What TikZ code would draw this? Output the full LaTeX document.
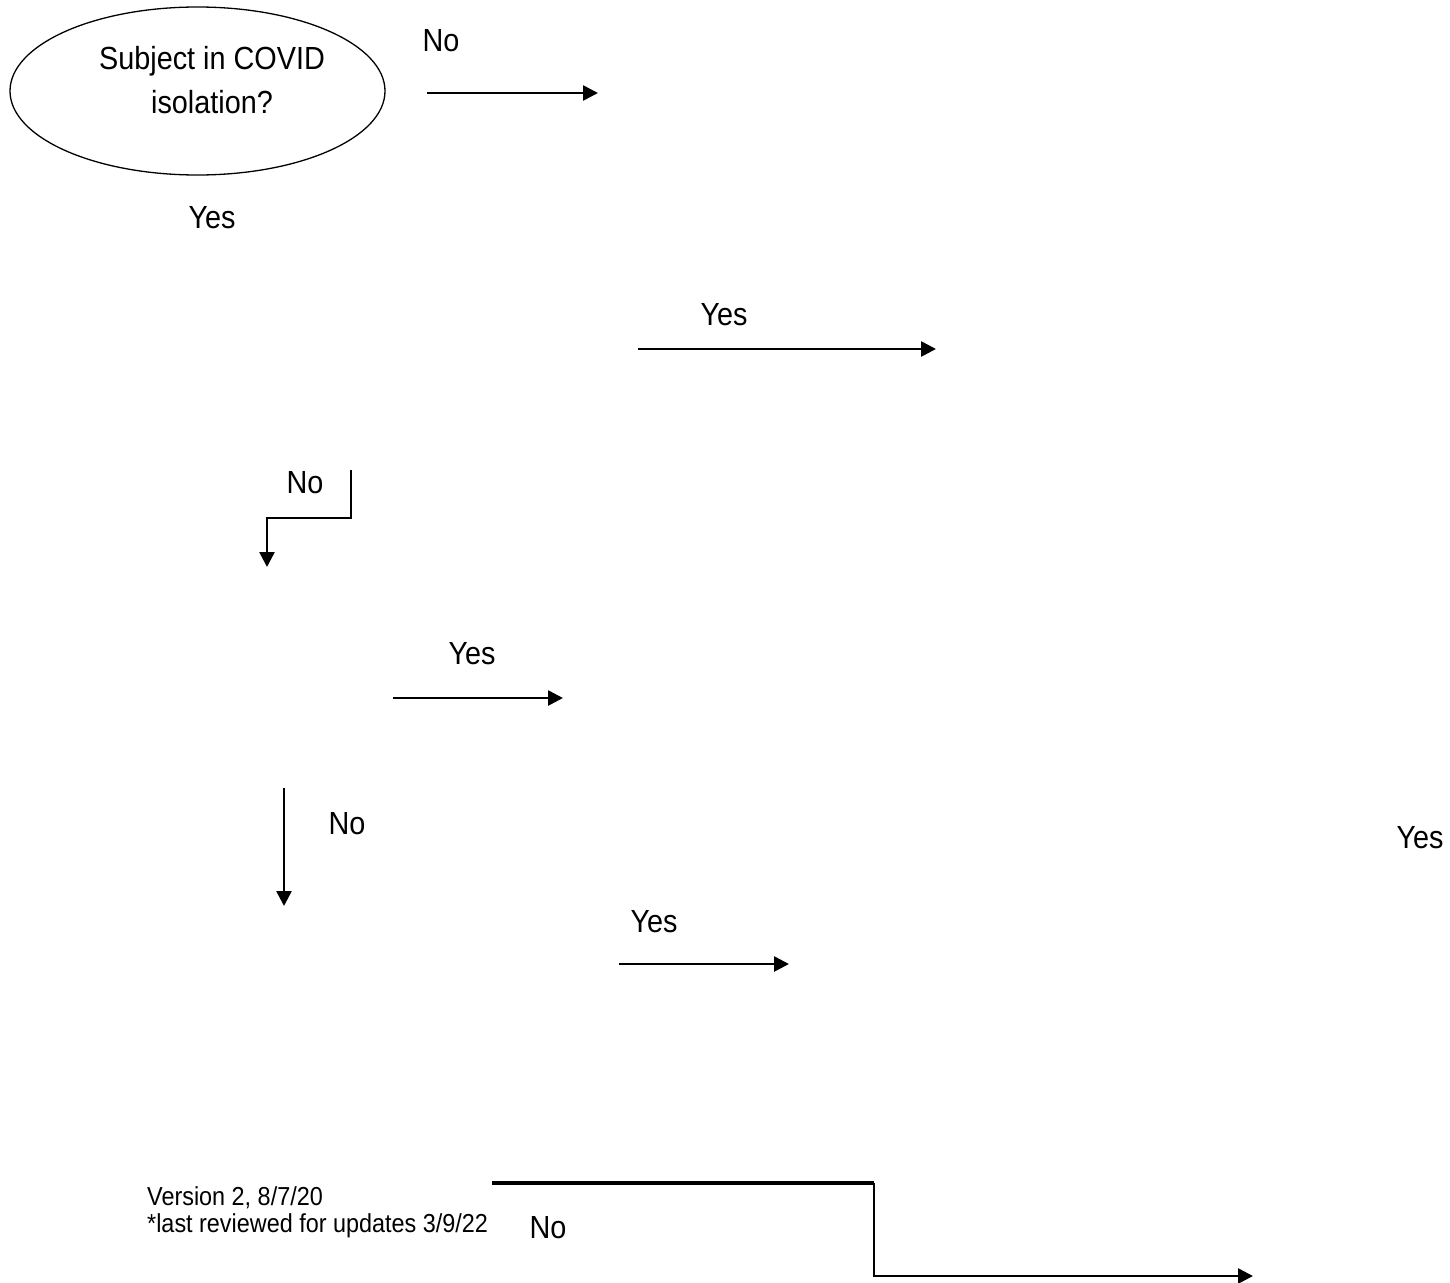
\documentclass[tikz,border=0pt]{standalone}
\usepackage{fontspec}
\setmainfont{Liberation Sans}
\newfontfamily\condfont[FakeStretch=0.9]{Liberation Sans}
\usetikzlibrary{arrows.meta,shapes.geometric}
\tikzset{
  lbl/.style={inner sep=0pt, font=\condfont\fontsize{32}{44}\selectfont, align=center},
  small/.style={inner sep=0pt, font=\condfont\fontsize{26}{27}\selectfont, align=left},
  conn/.style={line width=2.6pt, -{Triangle[length=15pt,width=15pt]}},
  plain/.style={line width=2.6pt},
  decision/.style={ellipse, draw, line width=1.3pt, minimum width=375pt, minimum height=168pt, inner sep=0pt}
}
\begin{document}
\begin{tikzpicture}[x=1pt,y=-1pt]
\useasboundingbox (0,0) rectangle (1450,1282);
% decision ellipse
\node[decision] (q1) at (197.5,91) {};
\node[lbl] (q1t) at (212,80) {Subject in COVID\\isolation?};
% labels
\node[lbl] (no1) at (441,41) {No};
\node[lbl] (yes1) at (212,218) {Yes};
\node[lbl] (yes2) at (724,315) {Yes};
\node[lbl] (no2) at (305,483) {No};
\node[lbl] (yes3) at (472,654) {Yes};
\node[lbl] (no3) at (347,824) {No};
\node[lbl] (yes4) at (1420,838) {Yes};
\node[lbl] (yes5) at (654,922) {Yes};
\node[lbl] (no4) at (548,1228) {No};
\node[small, anchor=west] (ver) at (147,1212) {Version 2, 8/7/20\\*last reviewed for updates 3/9/22};
% connector end points
\coordinate (a1s) at (427,93);  \coordinate (a1e) at (598,93);
\coordinate (a2s) at (638,349); \coordinate (a2e) at (936,349);
\coordinate (a3s) at (351,470); \coordinate (a3m1) at (351,518); \coordinate (a3m2) at (267,518); \coordinate (a3e) at (267,567);
\coordinate (a4s) at (393,698); \coordinate (a4e) at (563,698);
\coordinate (a5s) at (284,788); \coordinate (a5e) at (284,906);
\coordinate (a6s) at (619,964); \coordinate (a6e) at (789,964);
\coordinate (a7s) at (492,1183); \coordinate (a7m1) at (874,1183); \coordinate (a7m2) at (874,1276); \coordinate (a7e) at (1253,1276);
% connectors
\draw[conn] (a1s) -- (a1e);
\draw[conn] (a2s) -- (a2e);
\draw[conn] (a3s) -- (a3m1) -- (a3m2) -- (a3e);
\draw[conn] (a4s) -- (a4e);
\draw[conn] (a5s) -- (a5e);
\draw[conn] (a6s) -- (a6e);
\draw[line width=3.2pt] (a7s) -- (a7m1);
\draw[conn] (a7m1) -- (a7m2) -- (a7e);
\end{tikzpicture}
\end{document}
